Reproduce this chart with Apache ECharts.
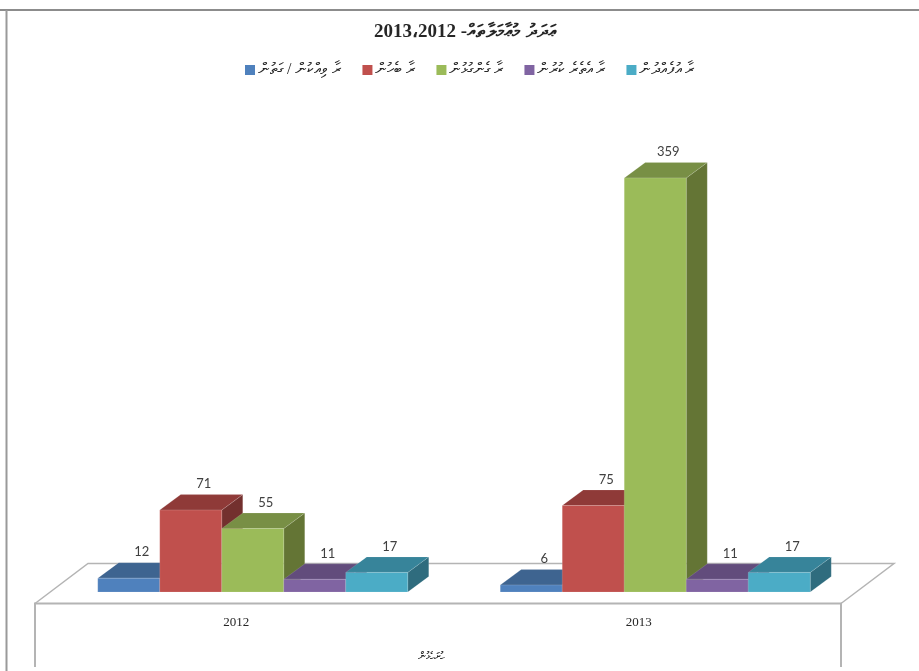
<!DOCTYPE html>
<html><head><meta charset="utf-8"><style>html,body{margin:0;padding:0;background:#fff}#c{width:919px;height:671px}</style>
<script src="https://cdn.jsdelivr.net/npm/echarts@6/dist/echarts.min.js"></script></head>
<body><div id="c"></div><script>
var years = ['2012', '2013'];
var seriesNames = ['ރާ ވިއްކުން / ގަތުން', 'ރާ ބެހުން', 'ރާ ގެންގުޅުން', 'ރާ އެތެރެ ކުރުން', 'ރާ އުފެއްދުން'];
var sales = [12, 6];
var distribution = [71, 75];
var possession = [55, 359];
var importing = [11, 11];
var production = [17, 17];
var allValues = [sales, distribution, possession, importing, production];
var chartTitle = 'ޢަދަދު މުޢާމަލާތައް- 2013،2012';
var axisTitle = 'ހުށަހެޅުން';
var frontColors = ['#4F81BD', '#C0504D', '#9BBB59', '#8064A2', '#4BACC6'];
var topColors = ['#3E6490', '#8F3A38', '#788F45', '#624C7C', '#37849A'];
var sideColors = ['#33527A', '#73302E', '#647535', '#503E66', '#2F6C7E'];

var BAR_RATIO = 62 / 402.5, SHIFT_RATIO = 16.5 / 402.5, DX = 21, DY = -15.5;

function renderBar(seriesIndex) {
  return function (params, api) {
    var cat = api.value(0), val = api.value(1);
    var top = api.coord([cat, val]), base = api.coord([cat, 0]);
    var band = api.size([1, 0])[0];
    var w = band * BAR_RATIO;
    var x0 = top[0] + band * SHIFT_RATIO + (seriesIndex - 2.5) * w;
    var x1 = x0 + w, yt = top[1], yb = base[1];
    var edge = 'rgba(255,255,255,0.25)';
    return {
      type: 'group',
      children: [
        { type: 'polygon', shape: { points: [[x1, yt], [x1 + DX, yt + DY], [x1 + DX, yb + DY], [x1, yb]] },
          style: { fill: sideColors[seriesIndex], stroke: edge, lineWidth: 0.5 } },
        { type: 'polygon', shape: { points: [[x0, yt], [x0 + DX, yt + DY], [x1 + DX, yt + DY], [x1, yt]] },
          style: { fill: topColors[seriesIndex], stroke: edge, lineWidth: 0.5 } },
        { type: 'rect', shape: { x: x0, y: yt, width: w, height: yb - yt },
          style: { fill: frontColors[seriesIndex], stroke: edge, lineWidth: 0.5 } },
        { type: 'text', z2: 50, style: { x: x0 + w / 2 + 13, y: yt - 26, text: String(val), textAlign: 'center', textVerticalAlign: 'middle',
            fill: '#404040', font: '13px Lato' } }
      ]
    };
  };
}

var floorColor = '#b4b4b4';
function line(points, color, width) {
  return { type: 'polyline', z: 0, silent: true, shape: { points: points }, style: { stroke: color, lineWidth: width, fill: null } };
}

var chart = echarts.init(document.getElementById('c'));
chart.setOption({
  animation: false,
  backgroundColor: '#ffffff',
  title: { text: chartTitle, left: 374, top: 23, padding: 0,
    textStyle: { fontFamily: '"Liberation Serif"', fontSize: 19, fontWeight: 'bold', color: '#262626' } },
  legend: { left: 245, top: 62, padding: 0, itemWidth: 10, itemHeight: 10, itemGap: 20, icon: 'rect', selectedMode: false,
    data: seriesNames, textStyle: { fontFamily: '"Liberation Serif"', fontSize: 16, color: '#262626', padding: [0, 0, 0, -2] } },
  grid: { left: 35, width: 805, top: 130.7, bottom: 79 },
  xAxis: { type: 'category', data: years, axisLine: { show: false }, axisTick: { show: false },
    axisLabel: { margin: 24, fontFamily: '"Liberation Serif"', fontSize: 13, color: '#262626' },
    name: axisTitle, nameLocation: 'middle', nameGap: 60, nameTextStyle: { fontFamily: '"Liberation Serif"', fontSize: 11, color: '#262626', padding: [0, 0, 0, -12] } },
  yAxis: { type: 'value', min: 0, max: 400, show: false, splitLine: { show: false } },
  graphic: [
    line([[0, 10], [919, 10]], '#8c8c8c', 2),
    line([[6.5, 10], [6.5, 671]], '#9a9a9a', 2),
    line([[35, 667], [35, 603.5], [841, 603.5], [841, 667]], floorColor, 2),
    line([[35, 603.5], [88, 563.5], [894, 563.5], [841, 603.5]], floorColor, 1.5)
  ],
  series: seriesNames.map(function (name, i) {
    return {
      type: 'custom', name: name, renderItem: renderBar(i), itemStyle: { color: frontColors[i] },
      encode: { x: 0, y: 1 },
      data: allValues[i].map(function (v, k) { return [k, v]; })
    };
  })
});
</script></body></html>
